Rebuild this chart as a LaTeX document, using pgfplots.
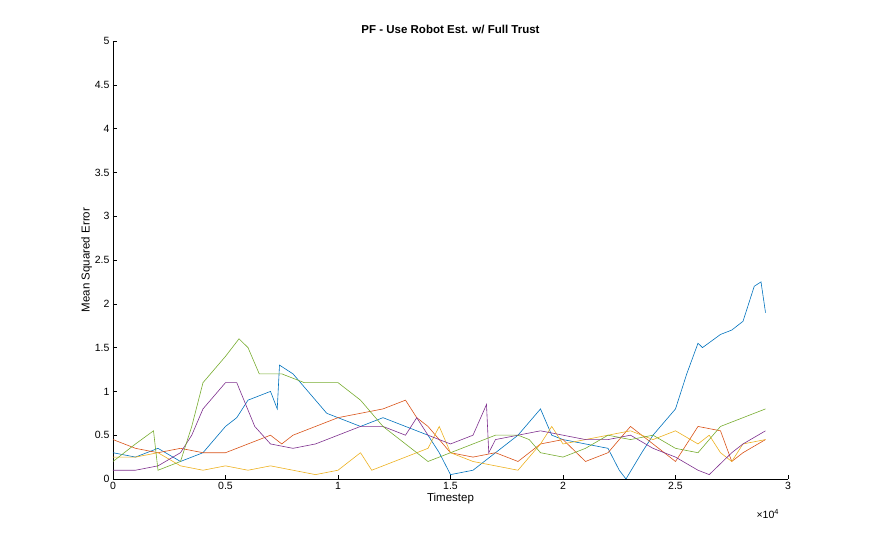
\documentclass[border=0pt]{standalone}
\usepackage{pgfplots}
\pgfplotsset{compat=1.18}
\usepackage{fontspec}
\setmainfont{Liberation Sans}
\definecolor{c1}{rgb}{0,0.447,0.741}
\definecolor{c2}{rgb}{0.85,0.325,0.098}
\definecolor{c3}{rgb}{0.929,0.694,0.125}
\definecolor{c4}{rgb}{0.494,0.184,0.556}
\definecolor{c5}{rgb}{0.466,0.674,0.188}
\begin{document}
\begin{tikzpicture}
\useasboundingbox (-113pt,-58pt) rectangle (758pt,479pt);
\begin{axis}[at={(0,0)},anchor=south west,scale only axis,width=675pt,height=438pt,
xmin=0,xmax=3,ymin=0,ymax=5,
xtick={0,0.5,...,3},xticklabels={0,0.5,1,1.5,2,2.5,3},
ytick={0,0.5,...,5},yticklabels={0,0.5,1,1.5,2,2.5,3,3.5,4,4.5,5},
axis x line*=bottom, axis y line*=left,
tick align=inside, tick style={black}, ticklabel style={font=\fontsize{10.5}{12}\selectfont},
/pgf/number format/assume math mode=true,
title style={font=\fontsize{11.5}{13}\selectfont\bfseries,yshift=-2pt},
title={PF - Use Robot Est. w/ Full Trust},
xlabel={Timestep}, ylabel={Mean Squared Error},
label style={font=\fontsize{11.5}{13}\selectfont},
xlabel style={yshift=4pt}, ylabel style={yshift=-4pt},
every axis plot/.append style={line width=0.6pt}]
\addplot[c1] coordinates {(0,0.3)(0.1,0.25)(0.2,0.35)(0.3,0.2)(0.4,0.3)(0.5,0.6)(0.55,0.7)(0.6,0.9)(0.7,1.0)(0.73,0.8)(0.74,1.3)(0.8,1.2)(0.9,0.9)(0.95,0.75)(1.0,0.7)(1.1,0.6)(1.2,0.7)(1.3,0.6)(1.4,0.5)(1.45,0.3)(1.5,0.05)(1.6,0.1)(1.7,0.3)(1.8,0.5)(1.9,0.8)(1.95,0.5)(2.0,0.45)(2.1,0.4)(2.2,0.35)(2.25,0.1)(2.28,0.0)(2.35,0.3)(2.4,0.5)(2.5,0.8)(2.55,1.2)(2.6,1.55)(2.62,1.5)(2.7,1.65)(2.75,1.7)(2.8,1.8)(2.85,2.2)(2.88,2.25)(2.9,1.9)};
\addplot[c2] coordinates {(0,0.45)(0.1,0.35)(0.2,0.3)(0.3,0.35)(0.4,0.3)(0.5,0.3)(0.6,0.4)(0.7,0.5)(0.75,0.4)(0.8,0.5)(0.9,0.6)(1.0,0.7)(1.1,0.75)(1.2,0.8)(1.3,0.9)(1.35,0.7)(1.4,0.6)(1.5,0.3)(1.6,0.25)(1.7,0.3)(1.8,0.2)(1.9,0.4)(2.0,0.45)(2.1,0.2)(2.2,0.3)(2.3,0.6)(2.4,0.4)(2.5,0.2)(2.6,0.6)(2.7,0.55)(2.75,0.2)(2.8,0.3)(2.9,0.45)};
\addplot[c3] coordinates {(0,0.25)(0.1,0.25)(0.2,0.3)(0.3,0.15)(0.4,0.1)(0.5,0.15)(0.6,0.1)(0.7,0.15)(0.9,0.05)(1.0,0.1)(1.1,0.3)(1.15,0.1)(1.3,0.25)(1.4,0.35)(1.45,0.6)(1.5,0.3)(1.6,0.2)(1.8,0.1)(1.9,0.4)(1.95,0.6)(2.0,0.4)(2.2,0.5)(2.3,0.55)(2.4,0.45)(2.5,0.55)(2.6,0.4)(2.65,0.5)(2.7,0.3)(2.75,0.2)(2.8,0.4)(2.9,0.45)};
\addplot[c4] coordinates {(0,0.1)(0.1,0.1)(0.2,0.15)(0.3,0.3)(0.35,0.5)(0.4,0.8)(0.5,1.1)(0.55,1.1)(0.63,0.6)(0.7,0.4)(0.8,0.35)(0.9,0.4)(1.0,0.5)(1.1,0.6)(1.2,0.6)(1.3,0.5)(1.35,0.7)(1.4,0.5)(1.5,0.4)(1.6,0.5)(1.66,0.85)(1.67,0.3)(1.7,0.45)(1.8,0.5)(1.9,0.55)(2.0,0.5)(2.1,0.45)(2.2,0.45)(2.3,0.5)(2.4,0.35)(2.5,0.25)(2.6,0.1)(2.65,0.05)(2.75,0.3)(2.8,0.4)(2.9,0.55)};
\addplot[c5] coordinates {(0,0.2)(0.05,0.3)(0.1,0.4)(0.18,0.55)(0.2,0.1)(0.3,0.2)(0.35,0.6)(0.4,1.1)(0.5,1.4)(0.56,1.6)(0.6,1.5)(0.65,1.2)(0.75,1.2)(0.85,1.1)(1.0,1.1)(1.1,0.9)(1.2,0.6)(1.3,0.4)(1.4,0.2)(1.5,0.3)(1.6,0.4)(1.7,0.5)(1.8,0.5)(1.85,0.45)(1.9,0.3)(2.0,0.25)(2.1,0.35)(2.2,0.5)(2.3,0.45)(2.4,0.5)(2.5,0.35)(2.6,0.3)(2.7,0.6)(2.8,0.7)(2.9,0.8)};
\end{axis}
\node[font=\fontsize{10.5}{12}\selectfont,anchor=west] at (640pt,-35pt) {×10\textsuperscript{4}};
\end{tikzpicture}
\end{document}
